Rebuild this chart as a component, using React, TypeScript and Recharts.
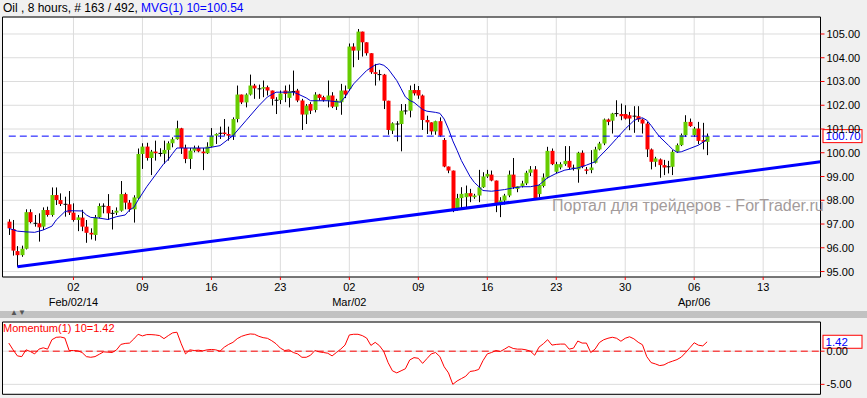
import { ComposedChart, Bar, Line, XAxis, YAxis, CartesianGrid, ReferenceLine } from 'recharts';

// 8-hour candles, index 0..162 (16 bars per week)
const opens = [
  97.10, 96.79, 95.86, 95.69, 95.96, 97.50, 97.08, 97.03, 96.89, 97.59,
  97.38, 98.22, 98.01, 97.84, 97.83, 97.48, 97.17, 97.27, 96.89, 96.63,
  96.54, 97.28, 97.76, 97.76, 97.50, 97.48, 97.56, 98.26, 97.90, 97.62,
  98.08, 99.95, 100.26, 99.78, 100.05, 99.98, 99.96, 100.12, 100.40, 100.57,
  101.03, 100.20, 99.74, 100.09, 100.20, 100.05, 99.98, 100.26, 100.72, 100.79,
  100.85, 100.79, 100.72, 101.42, 102.45, 102.12, 102.45, 102.83, 102.70, 102.70,
  102.76, 102.62, 102.22, 102.22, 102.62, 102.31, 102.59, 102.62, 102.20, 101.61,
  102.05, 101.80, 102.45, 102.34, 102.20, 102.41, 101.94, 102.13, 102.62, 102.69,
  104.47, 104.30, 105.10, 104.65, 104.19, 103.39, 103.30, 103.29, 102.19, 100.93,
  101.22, 101.21, 101.77, 101.77, 102.64, 102.64, 102.41, 101.38, 101.28, 100.90,
  101.33, 100.54, 99.42, 99.25, 97.59, 98.09, 98.13, 98.30, 98.13, 98.20,
  98.55, 99.00, 99.08, 98.83, 97.85, 97.99, 98.20, 99.08, 98.48, 98.60,
  98.71, 99.16, 99.30, 98.26, 98.60, 98.96, 100.08, 99.20, 99.38, 99.52,
  99.66, 99.36, 99.30, 100.00, 99.30, 99.27, 99.58, 100.14, 100.39, 101.40,
  101.35, 101.60, 101.63, 101.63, 101.58, 101.58, 101.54, 101.40, 101.23, 100.14,
  99.62, 99.72, 99.48, 99.38, 99.41, 100.04, 100.32, 100.74, 101.30, 100.74,
  101.02, 100.53, 100.46,
];
const highs = [
  97.20, 97.17, 96.07, 96.09, 97.62, 97.62, 97.38, 97.45, 97.70, 97.73,
  98.54, 98.54, 98.29, 98.15, 98.39, 97.87, 97.38, 97.60, 97.17, 96.82,
  97.38, 97.87, 97.87, 98.26, 97.59, 97.70, 98.81, 98.32, 98.01, 98.21,
  100.18, 100.40, 100.42, 100.12, 100.51, 100.19, 100.51, 100.48, 100.65, 101.35,
  101.05, 100.34, 100.20, 100.30, 100.30, 100.20, 100.44, 101.04, 100.82, 101.10,
  101.42, 101.10, 101.49, 102.83, 102.45, 102.50, 103.29, 102.90, 102.87, 103.04,
  102.83, 102.62, 102.34, 102.62, 102.83, 102.87, 103.46, 102.69, 102.27, 102.05,
  102.13, 102.55, 102.48, 102.40, 103.04, 102.55, 102.27, 102.90, 102.83, 104.60,
  104.61, 105.21, 105.10, 104.65, 104.19, 103.74, 103.49, 103.32, 102.19, 101.28,
  101.33, 102.05, 102.05, 102.83, 102.90, 102.81, 102.45, 101.56, 101.28, 101.35,
  101.49, 100.62, 99.42, 99.25, 98.27, 98.55, 98.62, 98.48, 98.27, 99.28,
  99.18, 99.28, 99.25, 98.83, 98.13, 98.27, 99.25, 99.78, 98.59, 98.82,
  99.24, 99.44, 99.44, 98.68, 99.13, 100.25, 100.18, 99.62, 99.60, 100.28,
  100.28, 99.50, 100.04, 100.10, 99.40, 100.11, 100.25, 100.46, 101.44, 101.44,
  101.68, 102.21, 102.07, 102.00, 101.72, 101.96, 101.96, 101.44, 101.30, 100.18,
  99.83, 99.76, 99.70, 99.66, 100.11, 100.39, 100.81, 101.58, 101.44, 101.09,
  101.30, 101.26, 100.81,
];
const lows = [
  96.54, 95.67, 95.20, 95.62, 95.93, 97.03, 96.89, 96.26, 96.75, 97.31,
  97.31, 97.80, 97.76, 97.31, 97.38, 97.10, 96.70, 96.70, 96.21, 96.35,
  96.30, 97.24, 97.45, 97.17, 96.77, 97.38, 97.52, 97.62, 97.52, 97.06,
  98.05, 99.32, 99.67, 99.06, 99.67, 99.84, 99.53, 99.67, 100.23, 100.55,
  99.95, 99.56, 99.32, 100.02, 100.02, 99.27, 99.95, 100.23, 100.37, 100.58,
  100.72, 100.51, 100.54, 101.28, 102.05, 101.91, 102.41, 102.27, 102.27, 102.34,
  102.41, 101.99, 101.63, 102.05, 102.13, 101.91, 102.41, 102.13, 100.96, 101.21,
  101.63, 101.70, 102.20, 102.15, 101.91, 101.88, 101.80, 101.60, 102.30, 102.60,
  103.60, 103.91, 104.05, 104.09, 103.32, 102.83, 103.04, 101.84, 100.76, 100.79,
  100.48, 100.06, 101.61, 101.49, 102.41, 102.27, 100.96, 100.79, 100.76, 100.76,
  100.68, 99.39, 99.14, 97.50, 97.57, 97.59, 97.71, 97.92, 98.06, 97.92,
  98.52, 98.94, 98.80, 97.50, 97.29, 97.82, 98.13, 98.48, 98.34, 98.54,
  98.64, 99.02, 98.01, 98.12, 98.54, 98.92, 99.48, 99.13, 99.30, 99.45,
  99.30, 99.25, 98.74, 99.35, 99.10, 99.14, 99.55, 100.10, 100.32, 101.16,
  100.81, 101.52, 101.37, 101.40, 100.95, 100.84, 101.30, 100.81, 99.82, 99.30,
  99.41, 98.95, 99.06, 99.13, 99.06, 100.00, 100.28, 100.67, 101.09, 100.67,
  100.36, 100.14, 99.90,
];
const closes = [
  96.82, 95.88, 95.69, 95.96, 97.50, 97.08, 97.03, 96.86, 97.59, 97.38,
  98.22, 98.01, 97.84, 97.83, 97.48, 97.17, 97.28, 96.89, 96.63, 96.56,
  97.28, 97.76, 97.75, 97.45, 97.45, 97.56, 98.26, 97.90, 97.62, 98.12,
  99.95, 100.26, 99.78, 100.05, 99.98, 99.97, 100.12, 100.40, 100.57, 101.03,
  100.20, 99.74, 100.09, 100.20, 100.06, 99.98, 100.26, 100.72, 100.79, 100.82,
  100.79, 100.72, 101.42, 102.45, 102.12, 102.45, 102.83, 102.71, 102.69, 102.76,
  102.62, 102.27, 102.21, 102.50, 102.48, 102.59, 102.58, 102.20, 101.61, 101.98,
  101.77, 102.45, 102.31, 102.22, 102.41, 101.94, 102.20, 102.62, 102.45, 104.47,
  104.30, 105.10, 104.65, 104.19, 103.39, 103.32, 103.29, 102.19, 100.96, 101.24,
  101.21, 101.77, 101.76, 102.64, 102.50, 102.41, 101.38, 101.28, 100.90, 101.33,
  100.72, 99.42, 99.25, 97.57, 98.09, 98.27, 98.30, 98.16, 98.20, 98.55,
  99.00, 99.11, 98.83, 97.85, 97.99, 98.20, 99.08, 98.55, 98.59, 98.71,
  99.16, 99.30, 98.08, 98.64, 98.96, 100.08, 99.52, 99.52, 99.52, 99.66,
  99.38, 99.35, 100.00, 99.41, 99.24, 99.38, 100.14, 100.39, 101.40, 101.30,
  101.65, 101.65, 101.54, 101.44, 101.44, 101.54, 101.40, 101.23, 100.14, 99.62,
  99.76, 99.48, 99.38, 99.41, 100.04, 100.32, 100.74, 101.30, 101.12, 101.02,
  100.50, 100.46, 100.70,
];

// MVG(1) 10 at these bar indices
const maIdx = [
  0, 2, 4, 6, 8, 10, 11, 13, 14, 17, 18, 19, 21, 23, 25, 27, 28, 29, 30, 32,
  34, 36, 37, 38, 39, 42, 46, 49, 52, 55, 58, 60, 62, 66, 67, 69, 70, 74, 77, 78,
  80, 83, 85, 86, 87, 88, 90, 91, 92, 93, 94, 96, 97, 99, 100, 101, 102, 103, 104, 105,
  107, 108, 110, 112, 115, 117, 119, 121, 123, 125, 127, 129, 132, 134, 136, 137, 139, 141, 143, 145,
  146, 147, 148, 149, 150, 151, 153, 154, 155, 156, 158, 160, 162,
];
const maVal = [
  96.82, 96.70, 96.67, 96.65, 96.75, 96.91, 97.17, 97.52, 97.56, 97.55, 97.38, 97.28, 97.25, 97.19, 97.31, 97.38, 97.59, 97.70, 98.01, 98.57,
  99.06, 99.55, 99.72, 99.97, 100.20, 100.20, 100.20, 100.30, 100.72, 101.35, 101.98, 102.35, 102.55, 102.55, 102.48, 102.31, 102.19, 102.19, 102.13, 102.35,
  102.90, 103.46, 103.70, 103.74, 103.68, 103.53, 103.04, 102.70, 102.35, 102.20, 102.12, 101.82, 101.75, 101.70, 101.66, 101.42, 101.00, 100.50, 100.10, 99.67,
  99.00, 98.75, 98.41, 98.38, 98.45, 98.52, 98.57, 98.57, 98.64, 98.95, 99.13, 99.27, 99.36, 99.48, 99.62, 99.83, 100.20, 100.60, 101.00, 101.35,
  101.44, 101.47, 101.37, 101.15, 100.90, 100.67, 100.32, 100.14, 100.02, 100.04, 100.18, 100.32, 100.56,
];

// Momentum(1) 10
const momentum = [
  1.22, 0.2, -0.71, -0.82, 0.2, -0.05, -0.41, 0.31, 0.51, 0.31,
  1.73, 2.09, 2.14, 1.99, 0.1, 0.1, 0.05, -0.2, -0.82, -0.92,
  -0.82, -0.46, -0.1, -0.15, -0.2, 0.2, 1.02, 1.17, 1.22, 1.84,
  2.55, 2.3, 2.5, 2.5, 2.45, 2.35, 1.89, 2.35, 2.76, 2.86,
  1.12, -0.41, 0.2, 0.1, 0.15, 0.05, 0.2, 0.26, 0.2, 0,
  0.61, 1.02, 1.33, 1.89, 2.24, 2.45, 2.6, 2.55, 2.24, 2.04,
  1.94, 1.58, 1.12, 0.46, 0.1, 0.2, -0.2, -0.41, -0.92, -0.92,
  -0.61, 0.1, -0.1, -0.2, -0.31, -0.71, -0.2, 0.31, 0.92, 2.45,
  2.55, 2.55, 2.35, 1.99, 0.87, 1.33, 0.82, -0.05, -1.73, -2.96,
  -3.27, -2.96, -2.65, -1.33, -0.97, -1.07, -1.84, -1.12, -0.41, -0.2,
  -0.82, -2.35, -3.27, -5.0, -4.49, -4.13, -3.78, -3.06, -2.96, -2.76,
  -1.43, -0.41, -0.2, 0.1, -0.05, 0.31, 0.71, 0.41, 0.31, 0.31,
  0.2, 0, -0.61, 0.61, 1.12, 1.73, 0.92, 1.02, 1.07, 1.07,
  0.31, 0.46, 1.53, 1.22, 1.22, -0.2, 0.31, 1.3, 1.72, 1.95,
  2.1, 1.95, 1.5, 1.95, 2.17, 1.87, 1.35, 0.97, -0.82, -1.72,
  -1.92, -2.17, -2.07, -1.72, -1.5, -1.27, -0.9, -0.22, 0.52, 1.27,
  0.9, 0.8, 1.42,
];

const xTicks = [15, 31, 47, 63, 79, 95, 111, 127, 143, 159, 175];
const xDays = ['02', '09', '16', '23', '02', '09', '16', '23', '30', '06', '13'];
const xMonths: Record<number, string> = { 15: 'Feb/02/14', 79: 'Mar/02', 159: 'Apr/06' };
const priceTicks = [95, 96, 97, 98, 99, 100, 101, 102, 103, 104, 105];
const momTicks = [-5, 0];
const trend = [{ x: 2, y: 95.2 }, { x: 188.3, y: 99.62 }];
const lastPrice = 100.7;
const lastMom = 1.42;

const X_DOMAIN = [-1.46, 188.3];

const data = opens.map((o, i) => {
  const k = maIdx.indexOf(i);
  return {
    i,
    o,
    h: highs[i],
    l: lows[i],
    c: closes[i],
    range: [lows[i], highs[i]],
    ma: k >= 0 ? maVal[k] : null,
    mom: momentum[i],
  };
});

const FONT = 'Arial, "Liberation Sans", sans-serif';
const NARROW = '"Liberation Sans Narrow", "Arial Narrow", Arial, sans-serif';

const Candle = (props: any) => {
  const { x, y, width, height, payload } = props;
  const { o, h, l, c } = payload;
  const top = Math.min(y, y + height);
  const hh = Math.abs(height);
  const k = h - l > 0 ? hh / (h - l) : 0;
  const cx = Math.round(x + width / 2) + 0.5;
  const yO = top + (h - o) * k;
  const yC = top + (h - c) * k;
  const bTop = Math.min(yO, yC);
  const bH = Math.abs(yO - yC);
  const fill = c > o ? '#66cc00' : '#ff0000';
  return (
    <g>
      <line x1={cx} x2={cx} y1={top} y2={top + hh} stroke="#000" strokeWidth={1} />
      {bH < 1.2 ? (
        <line x1={cx - 2} x2={cx + 2} y1={yC} y2={yC} stroke="#000" strokeWidth={1} />
      ) : (
        <rect x={cx - 2} y={bTop} width={4} height={bH} fill={fill} />
      )}
    </g>
  );
};

const XTick = (props: any) => {
  const { x, y, payload } = props;
  const idx = xTicks.indexOf(payload.value);
  return (
    <g>
      <text x={x} y={y + 9} textAnchor="middle" fontSize={11} fontFamily={FONT} fill="#000">
        {xDays[idx]}
      </text>
      {xMonths[payload.value] && (
        <text x={x} y={y + 24} textAnchor="middle" fontSize={11} fontFamily={FONT} fill="#000">
          {xMonths[payload.value]}
        </text>
      )}
    </g>
  );
};

const YTick = (props: any) => {
  const { x, y, payload } = props;
  return (
    <text x={x} y={y + 4} textAnchor="start" fontSize={11} fontFamily={NARROW} fill="#000">
      {payload.value.toFixed(2)}
    </text>
  );
};

const ValueBox = ({ viewBox, text }: any) => {
  if (!viewBox) return null;
  const bx = viewBox.x + viewBox.width + 2;
  const cy = viewBox.y;
  return (
    <g>
      <rect x={bx + 0.5} y={cy - 6.5} width={39} height={13} fill="#fff" stroke="#ff0000" strokeWidth={1} />
      <text x={bx + 3} y={cy + 4} fontSize={11.5} fontFamily={FONT} fill="#0000ff">
        {text}
      </text>
    </g>
  );
};

export default function App() {
  return (
    <div style={{ position: 'absolute', left: 0, top: 0, width: 867, height: 398, background: '#f0f0f0', overflow: 'hidden' }}>
      <div style={{ position: 'absolute', left: 3, top: 1, fontSize: 12, fontFamily: FONT, whiteSpace: 'nowrap', lineHeight: '15px' }}>
        <span style={{ color: '#000' }}>Oil , 8 hours, # 163 / 492, </span>
        <span style={{ color: '#0000ff' }}>MVG(1) 10=100.54</span>
      </div>

      <div style={{ position: 'absolute', left: 0, top: 0 }}>
        <ComposedChart width={867} height={312} data={data} margin={{ top: 17, right: 0, bottom: 0, left: 2.5 }}>
          <CartesianGrid fill="#fff" stroke="#dcdcdc" />
          <XAxis
            dataKey="i"
            type="number"
            domain={X_DOMAIN}
            ticks={xTicks}
            allowDataOverflow
            height={35}
            tickSize={3}
            tickLine={{ stroke: '#ff0000' }}
            axisLine={{ stroke: '#000' }}
            tick={<XTick />}
            interval={0}
          />
          <YAxis
            orientation="right"
            domain={[94.77, 105.715]}
            ticks={priceTicks}
            allowDataOverflow
            width={46.5}
            tickSize={4}
            tickLine={{ stroke: '#ff0000' }}
            axisLine={{ stroke: '#000' }}
            tick={<YTick />}
            interval={0}
          />
          <ReferenceLine x={X_DOMAIN[0]} stroke="#000" />
          <ReferenceLine y={105.715} stroke="#000" />
          <Bar dataKey="range" barSize={4} shape={<Candle />} isAnimationActive={false} />
          <Line dataKey="ma" type="linear" stroke="#0000cc" strokeWidth={1} dot={false} connectNulls isAnimationActive={false} />
          <ReferenceLine segment={trend} stroke="#0000ff" strokeWidth={3} />
          <ReferenceLine
            segment={[{ x: 0, y: lastPrice }, { x: X_DOMAIN[1], y: lastPrice }]}
            stroke="#0000ff"
            strokeDasharray="7 4"
            label={(p: any) => <ValueBox viewBox={p.viewBox} text={lastPrice.toFixed(2)} />}
          />
        </ComposedChart>
      </div>

      <div style={{ position: 'absolute', left: 552, top: 197, fontSize: 16, fontFamily: FONT, color: '#a39b9b', whiteSpace: 'nowrap' }}>
        Портал для трейдеров - ForTrader.ru
      </div>

      <div
        style={{
          position: 'absolute', left: 0, top: 311, width: 867, height: 7,
          backgroundColor: '#e4e4e4',
          backgroundImage: 'radial-gradient(#9a9a9a 0.6px, transparent 0.8px)',
          backgroundSize: '2px 2px',
        }}
      >
        <span style={{ position: 'absolute', left: 10, top: -3, fontSize: 8, color: '#555', fontFamily: FONT }}>▲▼</span>
      </div>

      <div style={{ position: 'absolute', left: 0, top: 318 }}>
        <ComposedChart width={867} height={80} data={data} margin={{ top: 4, right: 0, bottom: 0, left: 2.5 }}>
          <CartesianGrid fill="#fff" stroke="#dcdcdc" />
          <XAxis
            dataKey="i"
            type="number"
            domain={X_DOMAIN}
            ticks={xTicks}
            allowDataOverflow
            height={3.7}
            tick={false}
            tickLine={false}
            axisLine={{ stroke: '#000' }}
          />
          <YAxis
            orientation="right"
            domain={[-6.5, 4.4]}
            ticks={momTicks}
            allowDataOverflow
            width={46.5}
            tickSize={4}
            tickLine={{ stroke: '#ff0000' }}
            axisLine={{ stroke: '#000' }}
            tick={<YTick />}
            interval={0}
          />
          <ReferenceLine x={X_DOMAIN[0]} stroke="#000" />
          <ReferenceLine y={4.4} stroke="#000" />
          <ReferenceLine segment={[{ x: 0, y: 0 }, { x: X_DOMAIN[1], y: 0 }]} stroke="#ff0000" strokeDasharray="7 4" />
          <Line dataKey="mom" type="linear" stroke="#ff0000" strokeWidth={1} dot={false} isAnimationActive={false} />
          <ReferenceLine
            segment={[{ x: 0, y: lastMom }, { x: X_DOMAIN[1], y: lastMom }]}
            stroke="none"
            label={(p: any) => <ValueBox viewBox={p.viewBox} text={lastMom.toFixed(2)} />}
          />
        </ComposedChart>
        <div style={{ position: 'absolute', left: 3, top: 4, fontSize: 11, fontFamily: FONT, color: '#ff0000', whiteSpace: 'nowrap' }}>
          Momentum(1) 10=1.42
        </div>
      </div>
    </div>
  );
}
